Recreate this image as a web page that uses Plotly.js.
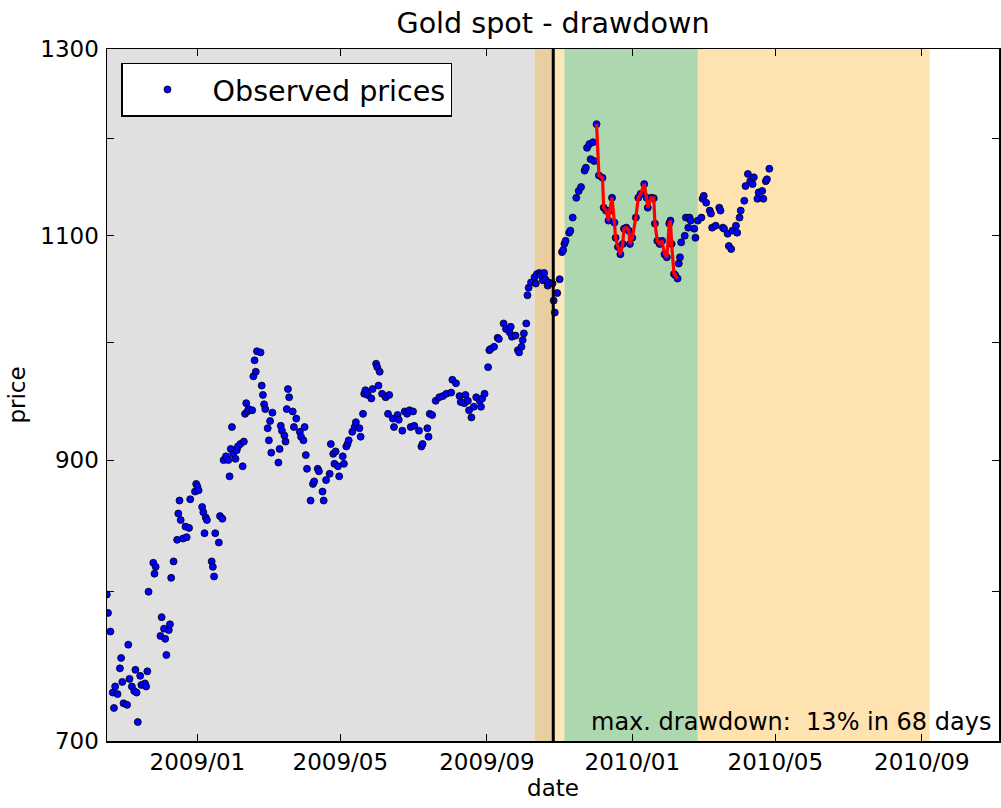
<!DOCTYPE html>
<html><head><meta charset="utf-8">
<script src="https://cdn.plot.ly/plotly-3.0.1.min.js"></script>
<style>html,body{margin:0;padding:0;background:#fff}</style>
</head><body>
<div id="chart" style="width:1001px;height:808px"></div>
<script>
// Observed gold spot prices
const dates = [
'2008-10-17','2008-10-18','2008-10-20','2008-10-22','2008-10-23','2008-10-24','2008-10-26','2008-10-28','2008-10-29','2008-10-30',
'2008-10-31','2008-11-03','2008-11-04','2008-11-05','2008-11-07','2008-11-09','2008-11-10','2008-11-11','2008-11-12','2008-11-14',
'2008-11-15','2008-11-18','2008-11-19','2008-11-20','2008-11-21','2008-11-25','2008-11-26','2008-11-27','2008-12-01','2008-12-02',
'2008-12-04','2008-12-05','2008-12-06','2008-12-08','2008-12-09','2008-12-10','2008-12-12','2008-12-15','2008-12-16','2008-12-17',
'2008-12-18','2008-12-20','2008-12-22','2008-12-23','2008-12-25','2008-12-26','2008-12-30','2008-12-31','2009-01-01','2009-01-02',
'2009-01-05','2009-01-06','2009-01-07','2009-01-08','2009-01-09','2009-01-13','2009-01-14','2009-01-15','2009-01-16','2009-01-19',
'2009-01-20','2009-01-22','2009-01-23','2009-01-25','2009-01-27','2009-01-28','2009-01-29','2009-01-30','2009-01-31','2009-02-02',
'2009-02-03','2009-02-04','2009-02-06','2009-02-08','2009-02-09','2009-02-10','2009-02-11','2009-02-12','2009-02-13','2009-02-16',
'2009-02-17','2009-02-18','2009-02-19','2009-02-20','2009-02-23','2009-02-24','2009-02-25','2009-02-26','2009-02-27','2009-03-01',
'2009-03-02','2009-03-03','2009-03-04','2009-03-05','2009-03-10','2009-03-11','2009-03-12','2009-03-13','2009-03-15','2009-03-16',
'2009-03-17','2009-03-18','2009-03-19','2009-03-22','2009-03-23','2009-03-25','2009-03-28','2009-03-29','2009-03-31','2009-04-01',
'2009-04-02','2009-04-03','2009-04-06','2009-04-08','2009-04-09','2009-04-12','2009-04-13','2009-04-16','2009-04-17','2009-04-19',
'2009-04-22','2009-04-23','2009-04-25','2009-04-26','2009-04-27','2009-04-29','2009-04-30','2009-05-03','2009-05-04','2009-05-06',
'2009-05-07','2009-05-08','2009-05-11','2009-05-13','2009-05-14','2009-05-17','2009-05-18','2009-05-20','2009-05-21','2009-05-22',
'2009-05-24','2009-05-27','2009-05-28','2009-05-31','2009-06-01','2009-06-02','2009-06-03','2009-06-05','2009-06-08','2009-06-10',
'2009-06-11','2009-06-14','2009-06-15','2009-06-18','2009-06-19','2009-06-22','2009-06-24','2009-06-26','2009-06-28','2009-06-29',
'2009-07-01','2009-07-02','2009-07-06','2009-07-08','2009-07-09','2009-07-13','2009-07-14','2009-07-15','2009-07-17','2009-07-20',
'2009-07-23','2009-07-26','2009-07-29','2009-08-02','2009-08-03','2009-08-06','2009-08-09','2009-08-10','2009-08-13','2009-08-14',
'2009-08-16','2009-08-17','2009-08-19','2009-08-21','2009-08-23','2009-08-26','2009-08-27','2009-08-28','2009-08-30','2009-09-02',
'2009-09-03','2009-09-04','2009-09-07','2009-09-10','2009-09-11','2009-09-15','2009-09-17','2009-09-20','2009-09-21','2009-09-22',
'2009-09-25','2009-09-27','2009-09-28','2009-09-30','2009-10-01','2009-10-02','2009-10-04','2009-10-05','2009-10-06','2009-10-08',
'2009-10-11','2009-10-12','2009-10-13','2009-10-15','2009-10-16','2009-10-18','2009-10-19','2009-10-20','2009-10-22','2009-10-23',
'2009-10-26','2009-10-27','2009-10-28','2009-10-30','2009-11-01','2009-11-03','2009-11-04','2009-11-05','2009-11-06','2009-11-09',
'2009-11-10','2009-11-12','2009-11-15','2009-11-17','2009-11-19','2009-11-22','2009-11-23','2009-11-24','2009-11-26','2009-11-27',
'2009-11-29','2009-11-30','2009-12-02','2009-12-04','2009-12-07','2009-12-08','2009-12-10','2009-12-12','2009-12-13','2009-12-15',
'2009-12-17','2009-12-18','2009-12-20','2009-12-22','2009-12-24','2009-12-25','2009-12-27','2009-12-29','2009-12-30','2010-01-01',
'2010-01-04','2010-01-06','2010-01-08','2010-01-11','2010-01-13','2010-01-14','2010-01-17','2010-01-19','2010-01-20','2010-01-22',
'2010-01-24','2010-01-26','2010-01-28','2010-01-30','2010-02-01','2010-02-02','2010-02-03','2010-02-05','2010-02-06','2010-02-08',
'2010-02-09','2010-02-10','2010-02-11','2010-02-14','2010-02-15','2010-02-17','2010-02-18','2010-02-19','2010-02-22','2010-02-23',
'2010-02-25','2010-02-28','2010-03-01','2010-03-02','2010-03-04','2010-03-07','2010-03-08','2010-03-09','2010-03-12','2010-03-15',
'2010-03-16','2010-03-18','2010-03-19','2010-03-22','2010-03-23','2010-03-25','2010-03-26','2010-03-29','2010-03-30','2010-04-01',
'2010-04-02','2010-04-05','2010-04-06','2010-04-08','2010-04-10','2010-04-12','2010-04-13','2010-04-16','2010-04-17','2010-04-20',
'2010-04-21','2010-04-23','2010-04-24','2010-04-26'
];
const prices = [
798,785,772,731,721,735,730,747,754,738,
724,723,763,740,735,732,746,731,712,742,
736,737,735,745,800,821,813,818,769,782,
774,767,756,773,777,810,822,838,858,868,
853,839,848,840,847,869,875,881,879,876,
863,859,843,855,853,822,818,811,843,836,
856,854,900,903,900,887,909,927,905,901,
908,911,913,895,915,938,947,940,942,941,
970,984,974,992,991,962,954,946,942,926,
916,932,906,939,898,909,928,924,920,915,
942,959,952,940,927,934,923,919,916,927,
904,893,868,881,883,893,891,875,868,884,
889,913,905,897,907,895,887,903,897,911,
913,916,923,927,931,926,919,938,955,958,
954,951,959,981,978,962,974,955,952,938,
954,934,927,937,933,924,940,938,941,927,
940,928,924,911,913,926,919,938,937,949,
952,953,955,956,967,964,953,948,947,954,
949,941,935,944,952,949,944,951,955,978,
993,994,996,1004,1003,1017,1012,1009,1014,1005,
1006,993,991,996,1002,1008,1017,1043,1050,1055,
1060,1054,1063,1064,1062,1057,1064,1058,1052,1055,
1054,1038,1027,1045,1058,1084,1086,1092,1095,1103,
1105,1118,1138,1145,1149,1166,1169,1190,1194,1178,
1196,1176,1215.5,1161,1158.5,1128,1125,1115,1125,1138,
1113,1098,1089,1082,1092,1107,1108,1105,1092,1098,
1118,1138,1142,1152,1138,1128,1138,1137.6,1112,1095,
1092,1095,1082,1079,1112,1115,1092,1063,1062,1058.7,
1073,1079,1093.5,1100,1118,1108,1118,1115,1107,1098,
1115,1118,1137,1140,1133,1125,1122,1108,1110,1128,
1125,1108,1107,1102,1090,1087,1105,1110,1103,1118,
1125,1135,1150,1162.5,1155,1152,1159,1137,1143.5,1145,
1137,1155,1157,1168
];

// drawdown window and the date marked by the vertical line
const peakDate = '2009-12-02';
const troughDate = '2010-02-08';
const markerDate = '2009-10-26 16:00';

// shaded periods
const spanStarts = ['2008-10-01', '2009-10-11', '2009-10-26 16:00', '2009-11-05', '2010-02-25'];
const spanEnds   = ['2009-10-11', '2009-10-26 16:00', '2009-11-05', '2010-02-25', '2010-09-07 12:00'];
const spanColors = ['#e0e0e0', '#e9cf9f', '#fde6b8', '#acd7af', '#fee3b1'];

// axes
const xRange = ['2008-10-17 03:30', '2010-11-04 18:00'];
const yTickValues = [700, 800, 900, 1000, 1100, 1200, 1300];
const yTickLabels = ['700', '', '900', '', '1100', '', '1300'];

// drawdown segment
const ddDates = [], ddPrices = [];
dates.forEach((d, i) => { if (d >= peakDate && d <= troughDate) { ddDates.push(d); ddPrices.push(prices[i]); } });
const peakPrice = ddPrices[0], troughPrice = ddPrices[ddPrices.length - 1];
const ddPct = Math.round((peakPrice - troughPrice) / peakPrice * 100);
const ddDays = Math.round((new Date(troughDate) - new Date(peakDate)) / 86400000);

const FONT = 'DejaVu Sans, Bitstream Vera Sans, sans-serif';

const traces = [
  {
    x: dates, y: prices, type: 'scatter', mode: 'markers', name: 'Observed prices',
    marker: {color: '#0000ff', size: 7, line: {color: '#000000', width: 0.8}},
    cliponaxis: true
  },
  {
    x: ddDates, y: ddPrices, type: 'scatter', mode: 'lines', showlegend: false,
    line: {color: '#ff0000', width: 3.2}
  }
];

const shapes = spanStarts.map((s, i) => ({
  type: 'rect', xref: 'x', yref: 'paper', x0: s, x1: spanEnds[i], y0: 0, y1: 1,
  fillcolor: spanColors[i], line: {width: 0}, layer: 'below'
}));
shapes.push({
  type: 'line', xref: 'x', yref: 'paper', x0: markerDate, x1: markerDate, y0: 0, y1: 1,
  line: {color: '#000000', width: 3}, layer: 'above'
});

const layout = {
  width: 1001, height: 808,
  margin: {l: 107, r: 2, t: 49, b: 67},
  paper_bgcolor: '#ffffff', plot_bgcolor: '#ffffff',
  font: {family: FONT, color: '#000000', size: 23},
  title: {text: 'Gold spot - drawdown', font: {family: FONT, size: 28.6, color: '#000'},
          x: 0.5, xref: 'paper', y: 0.971, yref: 'container', yanchor: 'middle'},
  xaxis: {
    type: 'date', range: xRange,
    tick0: '2009-01-01', dtick: 'M4', tickformat: '%Y/%m',
    ticks: 'inside', ticklen: 7, tickwidth: 1, tickcolor: '#000',
    showline: true, linecolor: '#000', linewidth: 1.5, mirror: 'ticks',
    showgrid: false, zeroline: false,
    tickfont: {family: FONT, size: 23, color: '#000'},
    ticklabelstandoff: 0,
    title: {text: 'date', font: {family: FONT, size: 23, color: '#000'}, standoff: 4}
  },
  yaxis: {
    type: 'log', range: [Math.log10(700), Math.log10(1300)],
    tickmode: 'array', tickvals: yTickValues, ticktext: yTickLabels,
    ticks: 'inside', ticklen: 7, tickwidth: 1, tickcolor: '#000',
    showline: true, linecolor: '#000', linewidth: 1.5, mirror: 'ticks',
    showgrid: false, zeroline: false,
    tickfont: {family: FONT, size: 23, color: '#000'},
    ticklabelstandoff: 2,
    title: {text: 'price', font: {family: FONT, size: 23, color: '#000'}, standoff: 8}
  },
  showlegend: true,
  legend: {
    x: 0.0157, y: 0.98, xanchor: 'left', yanchor: 'top',
    bgcolor: '#ffffff', bordercolor: '#000000', borderwidth: 1.5,
    font: {family: FONT, size: 28.6, color: '#000'},
    itemwidth: 80
  },
  shapes: shapes,
  annotations: [{
    xref: 'paper', yref: 'paper', x: 0.993, y: 0.0275, xanchor: 'right', yanchor: 'middle',
    text: 'max. drawdown:  ' + ddPct + '% in ' + ddDays + ' days', showarrow: false,
    font: {family: FONT, size: 24, color: '#000'}
  }]
};

Plotly.newPlot('chart', traces, layout, {displayModeBar: false, staticPlot: true});
</script>
</body></html>
